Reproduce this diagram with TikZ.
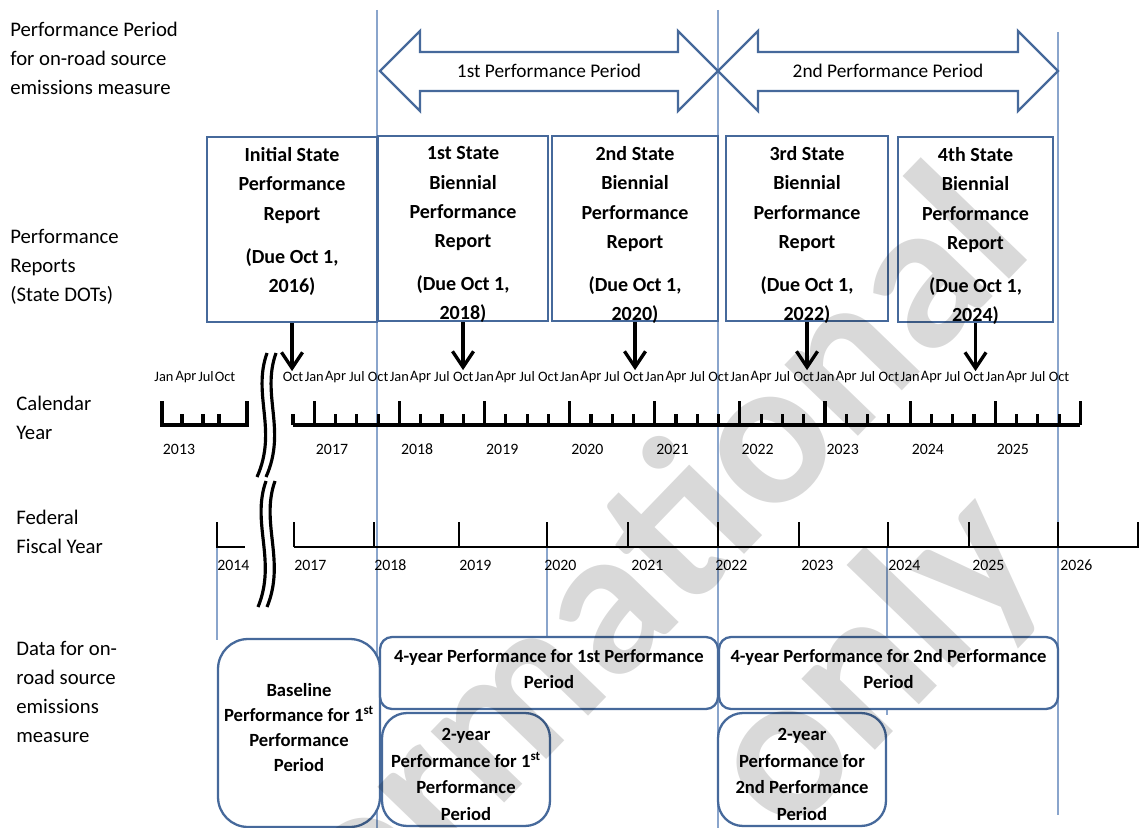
\documentclass[tikz,border=0pt]{standalone}
\usepackage{fontspec}
\setmainfont{Carlito}
\usepackage{tikz}
\usetikzlibrary{arrows.meta,positioning}
\definecolor{boxBlue}{HTML}{46699B}
\definecolor{guideBlue}{HTML}{8AA5CC}

\begin{document}
\begin{tikzpicture}[x=0.02cm,y=-0.02cm,
  lab/.style={anchor=west,align=left,inner sep=0pt,font=\fontsize{11.8}{16.4}\selectfont},
  guide/.style={guideBlue,line width=0.6pt},
  repbox/.style={draw=boxBlue,line width=1.3pt,fill=white,minimum height=3.7cm,inner sep=0pt},
  reptext/.style={align=center,inner sep=0pt,font=\bfseries\fontsize{11.4}{16.6}\selectfont},
  databox/.style={draw=boxBlue,line width=1.3pt,fill=white,inner sep=0pt},
  datatext/.style={align=center,inner sep=0pt,font=\bfseries\fontsize{10.6}{15.2}\selectfont},
  period/.style={draw=boxBlue,line width=1.3pt,fill=white,line join=miter},
  duearrow/.style={line width=1.9pt,-{Straight Barb[length=9pt,width=12pt]}},
  axis/.style={line width=1.8pt},
  fyaxis/.style={line width=1.4pt},
  month/.style={inner sep=0pt,font=\fontsize{8.2}{9}\selectfont},
  year/.style={inner sep=0pt,font=\fontsize{9}{10}\selectfont},
  wmark/.style={text opacity=0.15,anchor=base west,rotate=46,inner sep=0pt,font=\bfseries\fontsize{120}{130}\selectfont}]

\useasboundingbox (0,0) rectangle (1139,828);

% guide lines
\draw[guide] (377,10) -- (377,828);
\draw[guide] (718,10) -- (718,828);
\draw[guide] (1058,32) -- (1058,815);
\foreach \x/\ya/\yb in {217/547/640,547/547/640,887/547/715}
  \draw[guide] (\x,\ya) -- (\x,\yb);

% row labels
\node[lab] (lPeriod) at (10,58.5) {Performance Period\\for on-road source\\emissions measure};
\node[lab] (lReports) at (10,267) {Performance\\Reports\\(State DOTs)};
\node[lab] (lCal) at (16,417.5) {Calendar\\Year};
\node[lab] (lFed) at (16,531.5) {Federal\\Fiscal Year};
\node[lab] (lData) at (16,692) {Data for on-\\road source\\emissions\\measure};

% performance periods
\foreach \a/\b/\lab [count=\k] in {380/718/1st Performance Period,718/1058/2nd Performance Period} {
  \draw[period] (\a,71) -- (\a+40,31) -- (\a+40,52) -- (\b-40,52) -- (\b-40,31) -- (\b,71)
    -- (\b-40,111) -- (\b-40,91) -- (\a+40,91) -- (\a+40,111) -- cycle;
  \node[font=\fontsize{11}{13}\selectfont] (pp\k) at ({(\a+\b)/2},71) {\lab};
}

% report boxes
\node[repbox,minimum width=3.4cm] (rInit) at (292,229.5) {};
\node[repbox,minimum width=3.4cm] (r1) at (463,228.5) {};
\node[repbox,minimum width=3.32cm] (r2) at (635,228.5) {};
\node[repbox,minimum width=3.24cm] (r3) at (807,228.5) {};
\node[repbox,minimum width=3.1cm] (r4) at (975.5,229.5) {};
\node[reptext,below=0.23cm of rInit.north] (tInit) {Initial State\\Performance\\Report\\[8pt](Due Oct 1,\\2016)};
\foreach \n/\k/\y in {r1/1st/2018,r2/2nd/2020,r3/3rd/2022,r4/4th/2024}
  \node[reptext,below=0.23cm of \n.north] (t\n) {\k\ State\\Biennial\\Performance\\Report\\[8pt](Due Oct 1,\\\y)};

% due dates
\foreach \n in {rInit,r1,r2,r3,r4} {
  \path (\n.south) ++(0,48) coordinate (d\n);
  \draw[duearrow] (\n.south) -- (d\n);
}

% calendar year
\draw[axis] (162,401) -- (162,425) -- (247,425) -- (247,401);
\foreach \x in {182,203,219} \draw[axis] (\x,425) -- (\x,414);
\foreach \x/\m in {164/Jan,186/Apr,206/Jul,225/Oct} \node[month] (o\m) at (\x,377) {\m};
\node[year] (cy2013) at (179,449) {2013};
\draw[axis] (293,425) -- (1080.4,425);
\foreach \i in {0,...,36} \draw[axis] ({293+21.28*\i},425) -- ++(0,-11);
\foreach \k in {0,...,9} \draw[axis] ({314.3+85.12*\k},425) -- ++(0,-24);
\node[month] (mo0) at (293,377) {Oct};
\foreach \yr in {0,...,8}
  \foreach \m [count=\q] in {Jan,Apr,Jul,Oct}
    \node[month] (mo\yr\q) at ({293+21.28*(4*\yr+\q)},377) {\m};
\foreach \yr [count=\k from 0] in {2017,...,2025}
  \node[year] (cy\yr) at ({332+85.12*\k},449) {\yr};

% break
\foreach \dx in {0,9} {
  \draw[line width=1.8pt] (267+\dx,353) .. controls (252+\dx,395) and (278+\dx,430) .. (257+\dx,477);
  \draw[line width=1.8pt] (266+\dx,481) .. controls (251+\dx,523) and (277+\dx,561) .. (258+\dx,607);
}

% federal fiscal year
\draw[fyaxis] (217,522) -- (217,547) -- (245,547);
\node[year,anchor=west] (fy2014) at (217,565) {2014};
\draw[fyaxis] (294,547) -- (1139,547);
\foreach \x in {294,374,459,547,628,718,799,888,969,1058,1138} \draw[fyaxis] (\x,547) -- (\x,522);
\foreach \x/\yr in {294/2017,374/2018,459/2019,544/2020,631/2021,715/2022,801/2023,888/2024,972/2025,1060/2026}
  \node[year,anchor=west] (fy\yr) at (\x,565) {\yr};

% data boxes
\node[databox,rounded corners=0.6cm,minimum width=3.24cm,minimum height=3.76cm] (dBase) at (299,733) {};
\node[databox,rounded corners=0.24cm,minimum width=6.76cm,minimum height=1.44cm] (dFour1) at (549,673) {};
\node[databox,rounded corners=0.24cm,minimum width=6.78cm,minimum height=1.44cm] (dFour2) at (888.5,673) {};
\node[databox,rounded corners=0.5cm,minimum width=3.36cm,minimum height=2.26cm] (dTwo1) at (466,769.5) {};
\node[databox,rounded corners=0.5cm,minimum width=3.36cm,minimum height=2.26cm] (dTwo2) at (802,769.5) {};
\node[datatext,font=\bfseries\fontsize{10.6}{14.2}\selectfont,below=0.9cm of dBase.north] (tBase) {Baseline\\Performance for 1\textsuperscript{st}\\Performance\\Period};
\node[datatext,below=0.26cm of dFour1.north] (tFour1) {4-year Performance for 1st Performance\\Period};
\node[datatext,below=0.26cm of dFour2.north] (tFour2) {4-year Performance for 2nd Performance\\Period};
\node[datatext,below=0.32cm of dTwo1.north] (tTwo1) {2-year\\Performance for 1\textsuperscript{st}\\Performance\\Period};
\node[datatext,below=0.32cm of dTwo2.north] (tTwo2) {2-year\\Performance for\\2nd Performance\\Period};

% watermark
\node[wmark] (wm1) at (203,1115) {Informational};
\node[wmark] (wm2) at (787,841) {only};
\end{tikzpicture}
\end{document}
